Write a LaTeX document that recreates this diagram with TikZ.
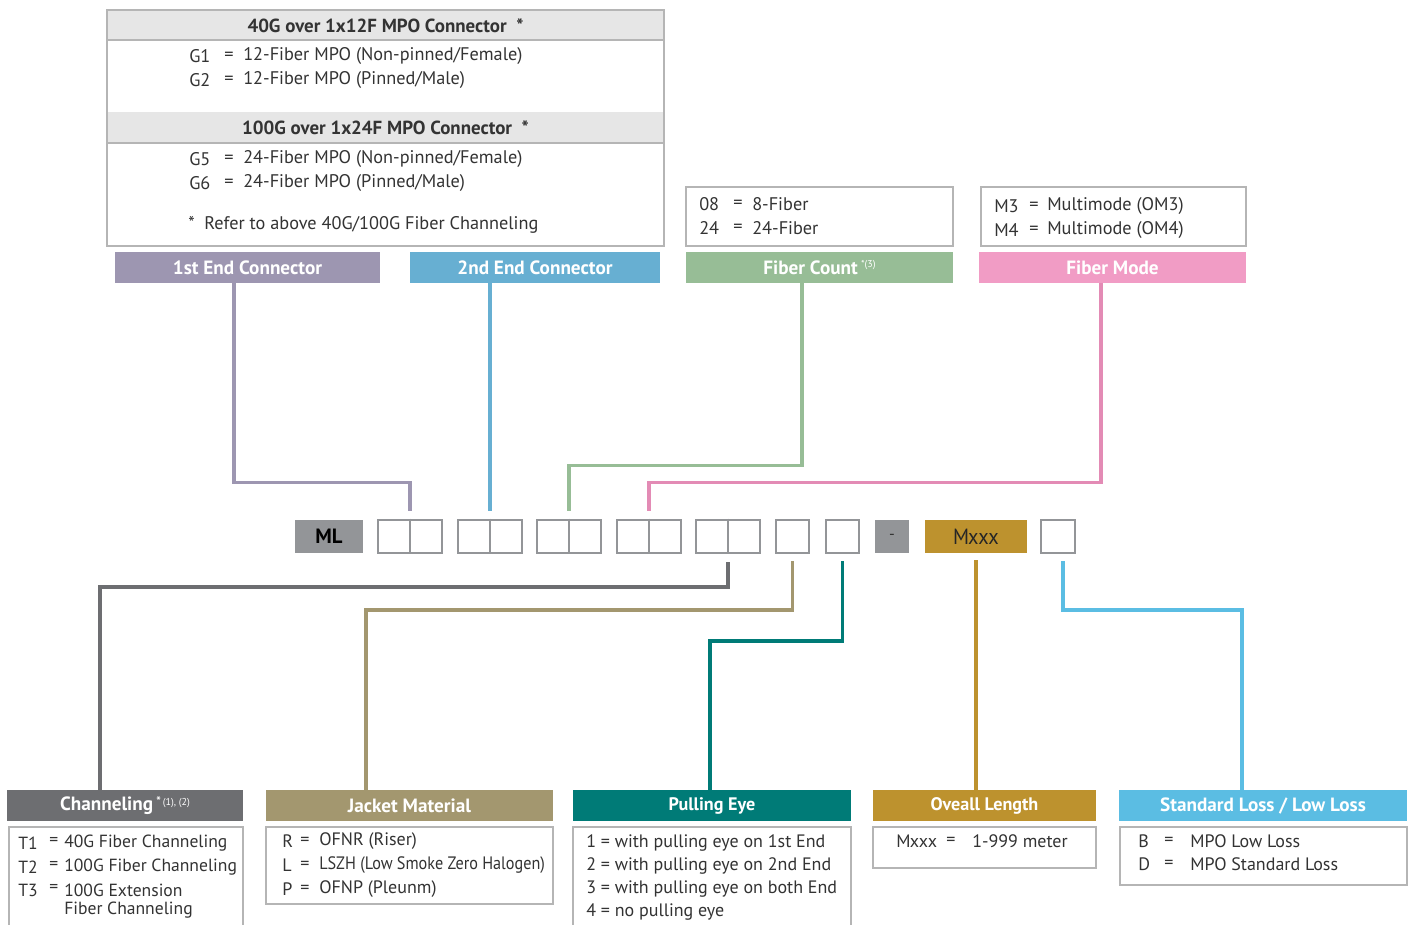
\documentclass[tikz,border=0pt]{standalone}
\usepackage{fontspec}
\setmainfont{PT Sans}
\usetikzlibrary{fit,calc}
\definecolor{bordergray}{HTML}{B5B5B5}
\definecolor{hdrgray}{HTML}{E6E6E6}
\definecolor{codegray}{HTML}{939598}
\definecolor{txtc}{HTML}{333333}
\definecolor{cpurple}{HTML}{9D96B1}
\definecolor{cblue}{HTML}{67AFD2}
\definecolor{cgreen}{HTML}{97BD96}
\definecolor{cpink}{HTML}{F19CC5}
\definecolor{cpinkline}{HTML}{E38BB5}
\definecolor{cchan}{HTML}{6D6E71}
\definecolor{cjacket}{HTML}{A3976F}
\definecolor{cteal}{HTML}{007B77}
\definecolor{cgold}{HTML}{BD922E}
\definecolor{csky}{HTML}{5BBDE3}
\begin{document}
\begin{tikzpicture}[x=0.75pt,y=-0.75pt]
\tikzset{
  frame/.style={draw=bordergray, line width=1.5pt, inner sep=0pt, fill=white},
  hdrfill/.style={fill=hdrgray, draw=none, inner sep=0pt},
  hdrtxt/.style={text=txtc, font=\bfseries\fontsize{14.2}{16}\selectfont, inner sep=0pt},
  bar/.style={draw=none, inner sep=0pt},
  bartxt/.style={text=white, font=\bfseries\fontsize{14.4}{16}\selectfont, inner sep=0pt},
  bartxtn/.style={text=white, font=\bfseries\fontsize{13.6}{16}\selectfont, inner sep=0pt},
  t/.style={anchor=west, text=txtc, font=\fontsize{13.7}{15}\selectfont, inner sep=0pt},
  tb/.style={anchor=west, text=txtc, font=\fontsize{13.5}{15}\selectfont, inner sep=0pt},
  tc/.style={anchor=west, text=txtc, font=\fontsize{13.2}{15}\selectfont, inner sep=0pt},
  codebox/.style={draw=codegray, line width=2pt, inner sep=0pt, fill=white},
  conn/.style={line width=2.3pt}
}
\useasboundingbox (0,0) rectangle (1418,925);
\fill[white] (0,0) rectangle (1418,925);

% ---------- code row ----------
\node[bar, fill=codegray, fit={(295,520)(363,553)}] (ml) {};
\node[inner sep=0pt, font=\bfseries\fontsize{15.5}{16}\selectfont] at (ml.center) (mlt) {ML};
\node[codebox, fit={(378,520)(442,553)}] (p1) {};
\node[codebox, fit={(458,520)(522,553)}] (p2) {};
\node[codebox, fit={(537,520)(601,553)}] (p3) {};
\node[codebox, fit={(617,520)(681,553)}] (p4) {};
\node[codebox, fit={(696,520)(760,553)}] (p5) {};
\foreach \p in {p1,p2,p3,p4,p5} \draw[draw=codegray, line width=2pt] (\p.north) -- (\p.south);
\node[codebox, fit={(776,520)(809,553)}] (s1) {};
\node[codebox, fit={(826,520)(859,553)}] (s2) {};
\node[bar, fill=codegray, fit={(875,520)(909,553)}] (dash) {};
\node[inner sep=0pt, font=\fontsize{12}{12}\selectfont, text=black!80] at (dash.center) (dasht) {-};
\node[bar, fill=cgold, fit={(925,520)(1027,553)}] (mx) {};
\node[inner sep=0pt, font=\fontsize{16.5}{17}\selectfont, text=black!85] at (mx.center) (mxt) {\scalebox{0.92}[1]{M\kern-0.8pt xxx}};
\node[codebox, fit={(1041,520)(1075,553)}] (last) {};

% ---------- top table ----------
\node[frame, fit={(107,10)(664,246)}] (tbl) {};
\node[hdrfill, fit={(108,11)(663,40)}] (h1) {};
\node[hdrfill, fit={(108,112)(663,143)}] (h2) {};
\draw[bordergray, line width=1.5pt] (h1.south west) -- (h1.south east);
\draw[bordergray, line width=1.5pt] (h2.south west) -- (h2.south east);
\node[hdrtxt] at (h1.center) (h1t) {40G over 1x12F MPO Connector\ \ *};
\node[hdrtxt] at (h2.center) (h2t) {100G over 1x24F MPO Connector\ \ *};
\node[t] at (189,56) (g1k) {G1};
\node[t] at (224,56) (g1e) {=};
\node[t] at (243,56) (g1v) {12-Fiber MPO (Non-pinned/Female)};
\node[t] at (189,80) (g2k) {G2};
\node[t] at (224,80) (g2e) {=};
\node[t] at (243,80) (g2v) {12-Fiber MPO (Pinned/Male)};
\node[t] at (189,159) (g5k) {G5};
\node[t] at (224,159) (g5e) {=};
\node[t] at (243,159) (g5v) {24-Fiber MPO (Non-pinned/Female)};
\node[t] at (189,183) (g6k) {G6};
\node[t] at (224,183) (g6e) {=};
\node[t] at (243,183) (g6v) {24-Fiber MPO (Pinned/Male)};
\node[t] at (188,225) (fn) {*\ \ Refer to above 40G/100G Fiber Channeling};

% fiber count / mode boxes
\node[frame, fit={(686,187)(953,246)}] (fcbox) {};
\node[t] at (699,204) (fc1k) {08};
\node[t] at (733,204) (fc1e) {=};
\node[t] at (752,204) (fc1v) {8-Fiber};
\node[t] at (699,228) (fc2k) {24};
\node[t] at (733,228) (fc2e) {=};
\node[t] at (752,228) (fc2v) {24-Fiber};
\node[frame, fit={(981,187)(1246,246)}] (fmbox) {};
\node[t] at (994,206) (fm1k) {M3};
\node[t] at (1029,206) (fm1e) {=};
\node[t] at (1047,206) (fm1v) {Multimode (OM3)};
\node[t] at (994,230) (fm2k) {M4};
\node[t] at (1029,230) (fm2e) {=};
\node[t] at (1047,230) (fm2v) {Multimode (OM4)};

% top bars
\node[bar, fill=cpurple, fit={(115,252)(380,283)}] (b1) {};
\node[bartxt] at (b1.center) (b1t) {1st End Connector};
\node[bar, fill=cblue, fit={(410,252)(660,283)}] (b2) {};
\node[bartxt] at (b2.center) (b2t) {2nd End Connector};
\node[bar, fill=cgreen, fit={(686,252)(953,283)}] (b3) {};
\node[bartxt] at (b3.center) (b3t) {Fiber Count\,\raisebox{5pt}{\fontsize{7.5}{8}\selectfont\mdseries *(3)}};
\node[bar, fill=cpink, fit={(979,252)(1246,283)}] (b4) {};
\node[bartxt] at (b4.center) (b4t) {Fiber Mode};

% top connectors
\coordinate (x1) at (234,0);
\coordinate (x2) at (490,0);
\coordinate (x3) at (802,0);
\coordinate (x4) at (1101,0);
\draw[conn, cpurple] (b1.south -| x1) |- ($(p1.north)+(0,-36)$) -- ($(p1.north)+(0,-8)$);
\draw[conn, cblue] (b2.south -| x2) -- ($(p2.north)+(0,-8)$);
\draw[conn, cgreen] (b3.south -| x3) |- ($(p3.north)+(0,-53)$) -- ($(p3.north)+(0,-8)$);
\draw[conn, cpinkline] (b4.south -| x4) |- ($(p4.north)+(0,-36)$) -- ($(p4.north)+(0,-8)$);

% ---------- bottom bars ----------
\node[bar, fill=cchan, fit={(7,790)(243,821)}] (c1) {};
\node[bartxt] at (c1.center) (c1t) {Channeling\,\raisebox{4pt}{\fontsize{9}{9}\selectfont *\,\fontsize{7.5}{8}\selectfont\mdseries (1), (2)}};
\node[bar, fill=cjacket, fit={(266,790)(553,821)}] (c2) {};
\node[bartxt] at (c2.center) (c2t) {Jacket Material};
\node[bar, fill=cteal, fit={(573,790)(851,821)}] (c3) {};
\node[bartxtn] at (c3.center) (c3t) {Pulling Eye};
\node[bar, fill=cgold, fit={(873,790)(1096,821)}] (c4) {};
\node[bartxtn] at (c4.center) (c4t) {Oveall Length};
\node[bar, fill=csky, fit={(1119,790)(1407,821)}] (c5) {};
\node[bartxt] at (c5.center) (c5t) {Standard Loss / Low Loss};

% bottom boxes
\draw[bordergray, line width=1.5pt] (9,940) |- (243,827) -- (243,940);
\coordinate (chbox) at (9,827);
\node[frame, fit={(266,827)(553,904)}] (jbox) {};
\draw[bordergray, line width=1.5pt] (573,940) |- (851,827) -- (851,940);
\coordinate (pebox) at (573,827);
\node[frame, fit={(873,827)(1096,868)}] (lbox) {};
\node[frame, fit={(1120,827)(1407,885)}] (sbox) {};

\node[tc] at (18,843) (t1k) {T1};
\node[tc] at (49,841) (t1e) {=};
\node[tc] at (64,843) (t1v) {40G Fiber Channeling};
\node[tc] at (18,867) (t2k) {T2};
\node[tc] at (49,865) (t2e) {=};
\node[tc] at (64,867) (t2v) {100G Fiber Channeling};
\node[tc] at (18,890) (t3k) {T3};
\node[tc] at (49,888) (t3e) {=};
\node[tc] at (64,890) (t3v) {100G Extension};
\node[tc] at (64,910) (t3w) {Fiber Channeling};

\node[tb] at (282,841) (jrk) {R};
\node[tb] at (300,841) (jre) {=};
\node[tb] at (319,841) (jrv) {OFNR (Riser)};
\node[tb] at (282,865) (jlk) {L};
\node[tb] at (300,865) (jle) {=};
\node[tb] at (319,865) (jlv) {\scalebox{0.9}[1]{LSZH (Low Smoke Zero Halogen)}};
\node[tb] at (282,889) (jpk) {P};
\node[tb] at (300,889) (jpe) {=};
\node[tb] at (319,889) (jpv) {OFNP (Pleunm)};

\node[tb] at (586,843) (pe1) {1 = with pulling eye on 1st End};
\node[tb] at (586,866) (pe2) {2 = with pulling eye on 2nd End};
\node[tb] at (586,889) (pe3) {3 = with pulling eye on both End};
\node[tb] at (586,912) (pe4) {4 = no pulling eye};

\node[tb] at (896,841) (lk) {M\kern-0.5pt xxx};
\node[tb] at (946,841) (le) {=};
\node[tb] at (972,841) (lv) {1-999 meter};

\node[tb] at (1138,841) (sbk) {B};
\node[tb] at (1164,841) (sbe) {=};
\node[tb] at (1190,841) (sbv) {MPO Low Loss};
\node[tb] at (1138,864) (sdk) {D};
\node[tb] at (1164,864) (sde) {=};
\node[tb] at (1190,864) (sdv) {MPO Standard Loss};

% bottom connectors
\coordinate (y1) at (100,0);
\coordinate (y2) at (366,0);
\coordinate (y3) at (710,0);
\coordinate (y4) at (1063,0);
\coordinate (y5) at (1242,0);
\draw[conn, cchan] ($(p5.south)+(0,8)$) |- (y1 |- 0,587) -- (c1.north -| y1);
\draw[conn, cjacket] ($(s1.south)+(0,7)$) |- (y2 |- 0,610) -- (c2.north -| y2);
\draw[conn, cteal] ($(s2.south)+(0,7)$) |- (y3 |- 0,641) -- (c3.north -| y3);
\draw[conn, cgold] ($(mx.south)+(0,7)$) -- (c4.north -| mx.south);
\draw[conn, csky] ($(last.south -| y4)+(0,7)$) |- (y5 |- 0,610) -- (c5.north -| y5);
\end{tikzpicture}
\end{document}
